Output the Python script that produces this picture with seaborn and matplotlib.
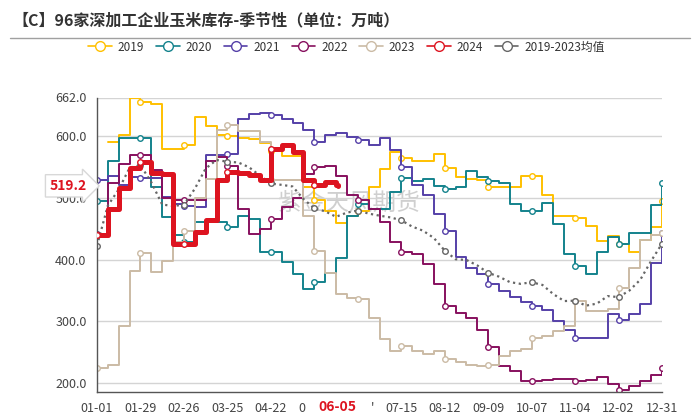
import numpy as np
import pandas as pd
import seaborn as sns
import matplotlib.pyplot as plt
from matplotlib.lines import Line2D

# ------------------- Data (weekly readings, 万吨) -------------------
week_days = list(range(0, 365, 7))          # 01-01 ... 12-31, 53 points
days_2024 = list(range(0, 155, 7)) + [155]  # up to 06-05

y2019 = [np.nan, 590, 602, 662, 655, 651, 578, 578, 585, 630,
         616, 601, 600, 597, 595, 589, 575, 567, 567, 518,
         497, 479, 459, 470, 479, 518, 546, 574, 564, 559,
         559, 570, 548, 533, 530, 528, 517, 517, 517, 535,
         535, 504, 471, 470, 468, 455, 430, 438, 426, 413,
         432, 452, 494]
y2020 = [495, 560, 597, 597, 597, 517, 469, 440, 428, 460,
         460, 460, 453, 470, 466, 412, 412, 396, 376, 353,
         363, 379, 403, 470, 490, 482, 482, 510, 532, 527,
         530, 519, 514, 517, 544, 533, 527, 523, 490, 479,
         479, 491, 457, 409, 390, 377, 413, 436, 426, 443,
         443, 489, 524]
y2021 = [528, 535, 520, 533, 532, 532, 501, 490, 487, 485,
         569, 569, 570, 628, 635, 637, 634, 628, 620, 610,
         590, 602, 604, 598, 594, 585, 596, 577, 549, 520,
         504, 474, 447, 404, 387, 377, 361, 350, 339, 331,
         325, 318, 301, 286, 274, 274, 274, 312, 302, 312,
         328, 395, 443]
y2022 = [442, 523, 555, 569, 569, 545, 500, 497, 497, 497,
         560, 566, 551, 482, 442, 450, 466, 485, 500, 539,
         550, 551, 535, 504, 497, 481, 460, 428, 413, 409,
         393, 360, 325, 314, 306, 287, 258, 228, 220, 204,
         204, 206, 207, 207, 203, 205, 210, 199, 189, 195,
         203, 214, 225]
y2023 = [225, 229, 293, 381, 410, 380, 397, 428, 447, 500,
         531, 609, 617, 608, 608, 590, 528, 528, 528, 470,
         414, 379, 345, 338, 336, 306, 271, 252, 260, 252,
         248, 252, 239, 235, 230, 228, 230, 244, 252, 255,
         274, 276, 285, 293, 333, 317, 317, 320, 354, 387,
         431, 439, 443]
y2024 = [440, 482, 515, 548, 558, 540, 539, 425, 425, 445,
         464, 528, 541, 540, 537, 528, 578, 585, 574, 528,
         520, 526, 520, 519.2]

tick_days = list(range(0, 365, 28))
tick_labels = ['01-01', '01-29', '02-26', '03-25', '04-22', '', '',
               '07-15', '08-12', '09-09', '10-07', '11-04', '12-02', '12-31']
# what is left visible of 05-20 / 06-17 behind the highlighted date
partial_days = [140, 168]
partial_labels = ['0', "'"]
last_day, last_label, last_value = 155, '06-05', 519.2

colors = {'2019': '#FFC000', '2020': '#13828C', '2021': '#5540A8',
          '2022': '#87105E', '2023': '#CBBBA5', '2024': '#DD1420',
          '2019-2023均值': '#666666'}

years = pd.DataFrame({'2019': y2019, '2020': y2020, '2021': y2021,
                      '2022': y2022, '2023': y2023}, index=week_days)
years['2019-2023均值'] = years[['2019', '2020', '2021', '2022', '2023']].mean(axis=1)

# ------------------- Plot -------------------
sns.set_style('white')
plt.rcParams['font.family'] = ['Noto Sans CJK SC', 'DejaVu Sans']

fig = plt.figure(figsize=(7, 4.16), dpi=100)
ax = fig.add_axes([97 / 700, 24 / 416, 565 / 700, 294.5 / 416])

mk = dict(marker='o', markersize=4, markerfacecolor='white', markeredgewidth=1)

for yr in ['2019', '2020', '2021', '2022', '2023']:
    s = years[yr].dropna()
    # markers only on the 28-day tick dates
    first = next(i for i, d in enumerate(s.index) if d % 28 == 0)
    sns.lineplot(x=s.index, y=s.values, ax=ax, color=colors[yr], lw=1.4,
                 drawstyle='steps-post', markeredgecolor=colors[yr],
                 markevery=(first, 4), **mk)

m = years['2019-2023均值']
sns.lineplot(x=m.index, y=m.values, ax=ax, color=colors['2019-2023均值'], lw=1.6,
             linestyle=(0, (1, 1.6)), markeredgecolor='#666666', markevery=4, **mk)

sns.lineplot(x=days_2024, y=y2024, ax=ax, color=colors['2024'], lw=3.6,
             drawstyle='steps-post', markeredgecolor=colors['2024'], markevery=4,
             zorder=5, **mk)

# axes styling
ax.set_xlim(0, 364)
ax.set_ylim(186, 662)
ax.set_yticks([200, 300, 400, 500, 600, 662])
ax.set_yticklabels(['200.0', '300.0', '400.0', '500.0', '600.0', '662.0'])
ax.set_xticks(tick_days)
ax.set_xticklabels(tick_labels)
ax.tick_params(axis='both', labelsize=9, colors='#444444', length=4, width=1)
ax.tick_params(axis='x', direction='out', pad=3)
ax.grid(axis='y', color='#D4D4D4', lw=1)
ax.set_xlabel('')
ax.set_ylabel('')
for side in ['top', 'right']:
    ax.spines[side].set_visible(False)
for side in ['left', 'bottom']:
    ax.spines[side].set_color('#555555')
    ax.spines[side].set_linewidth(1)

for d, lab, dx in zip(partial_days, partial_labels, [-9, 11]):
    ax.annotate(lab, xy=(d, 0), xycoords=ax.get_xaxis_transform(), xytext=(dx, -7),
                textcoords='offset points', ha='center', va='top', fontsize=9,
                color='#444444', annotation_clip=False)

# highlighted last date and value
ax.text(last_day, -0.028, last_label, transform=ax.get_xaxis_transform(),
        ha='center', va='top', fontsize=10, fontweight='bold', color='#DD1420',
        zorder=10, clip_on=False)
ax.text(-0.018, last_value, f'{last_value:.1f}', transform=ax.get_yaxis_transform(),
        ha='right', va='center', fontsize=10, fontweight='bold', color='#DD1420',
        bbox=dict(boxstyle='rarrow,pad=0.3', fc='white', ec='#D8D8D8'), zorder=10, clip_on=False)

# watermark
ax.text(0.446, 0.64, '紫金天风期货', transform=ax.transAxes, ha='center', va='center',
        fontsize=17, color='#B0B0B0', alpha=0.6, zorder=0)

# title and divider
fig.text(0.018, 0.952, '【C】96家深加工企业玉米库存-季节性（单位：万吨）',
         fontsize=11.5, fontweight='bold', color='#333333', va='center')
fig.add_artist(Line2D([10 / 700, 690 / 700], [0.909, 0.909], color='#A0A0A0', lw=1))

# legend
handles = [Line2D([0], [0], color=c, lw=1.2, marker='o', markersize=7,
                  markerfacecolor='white', markeredgecolor=c) for c in colors.values()]
fig.legend(handles, list(colors.keys()), loc='center', bbox_to_anchor=(0.495, 0.887),
           ncol=7, frameon=False, fontsize=8.5, handlelength=2.0, handletextpad=0.5,
           columnspacing=1.0, labelcolor='#333333')

fig.savefig('out.png', dpi=100)
